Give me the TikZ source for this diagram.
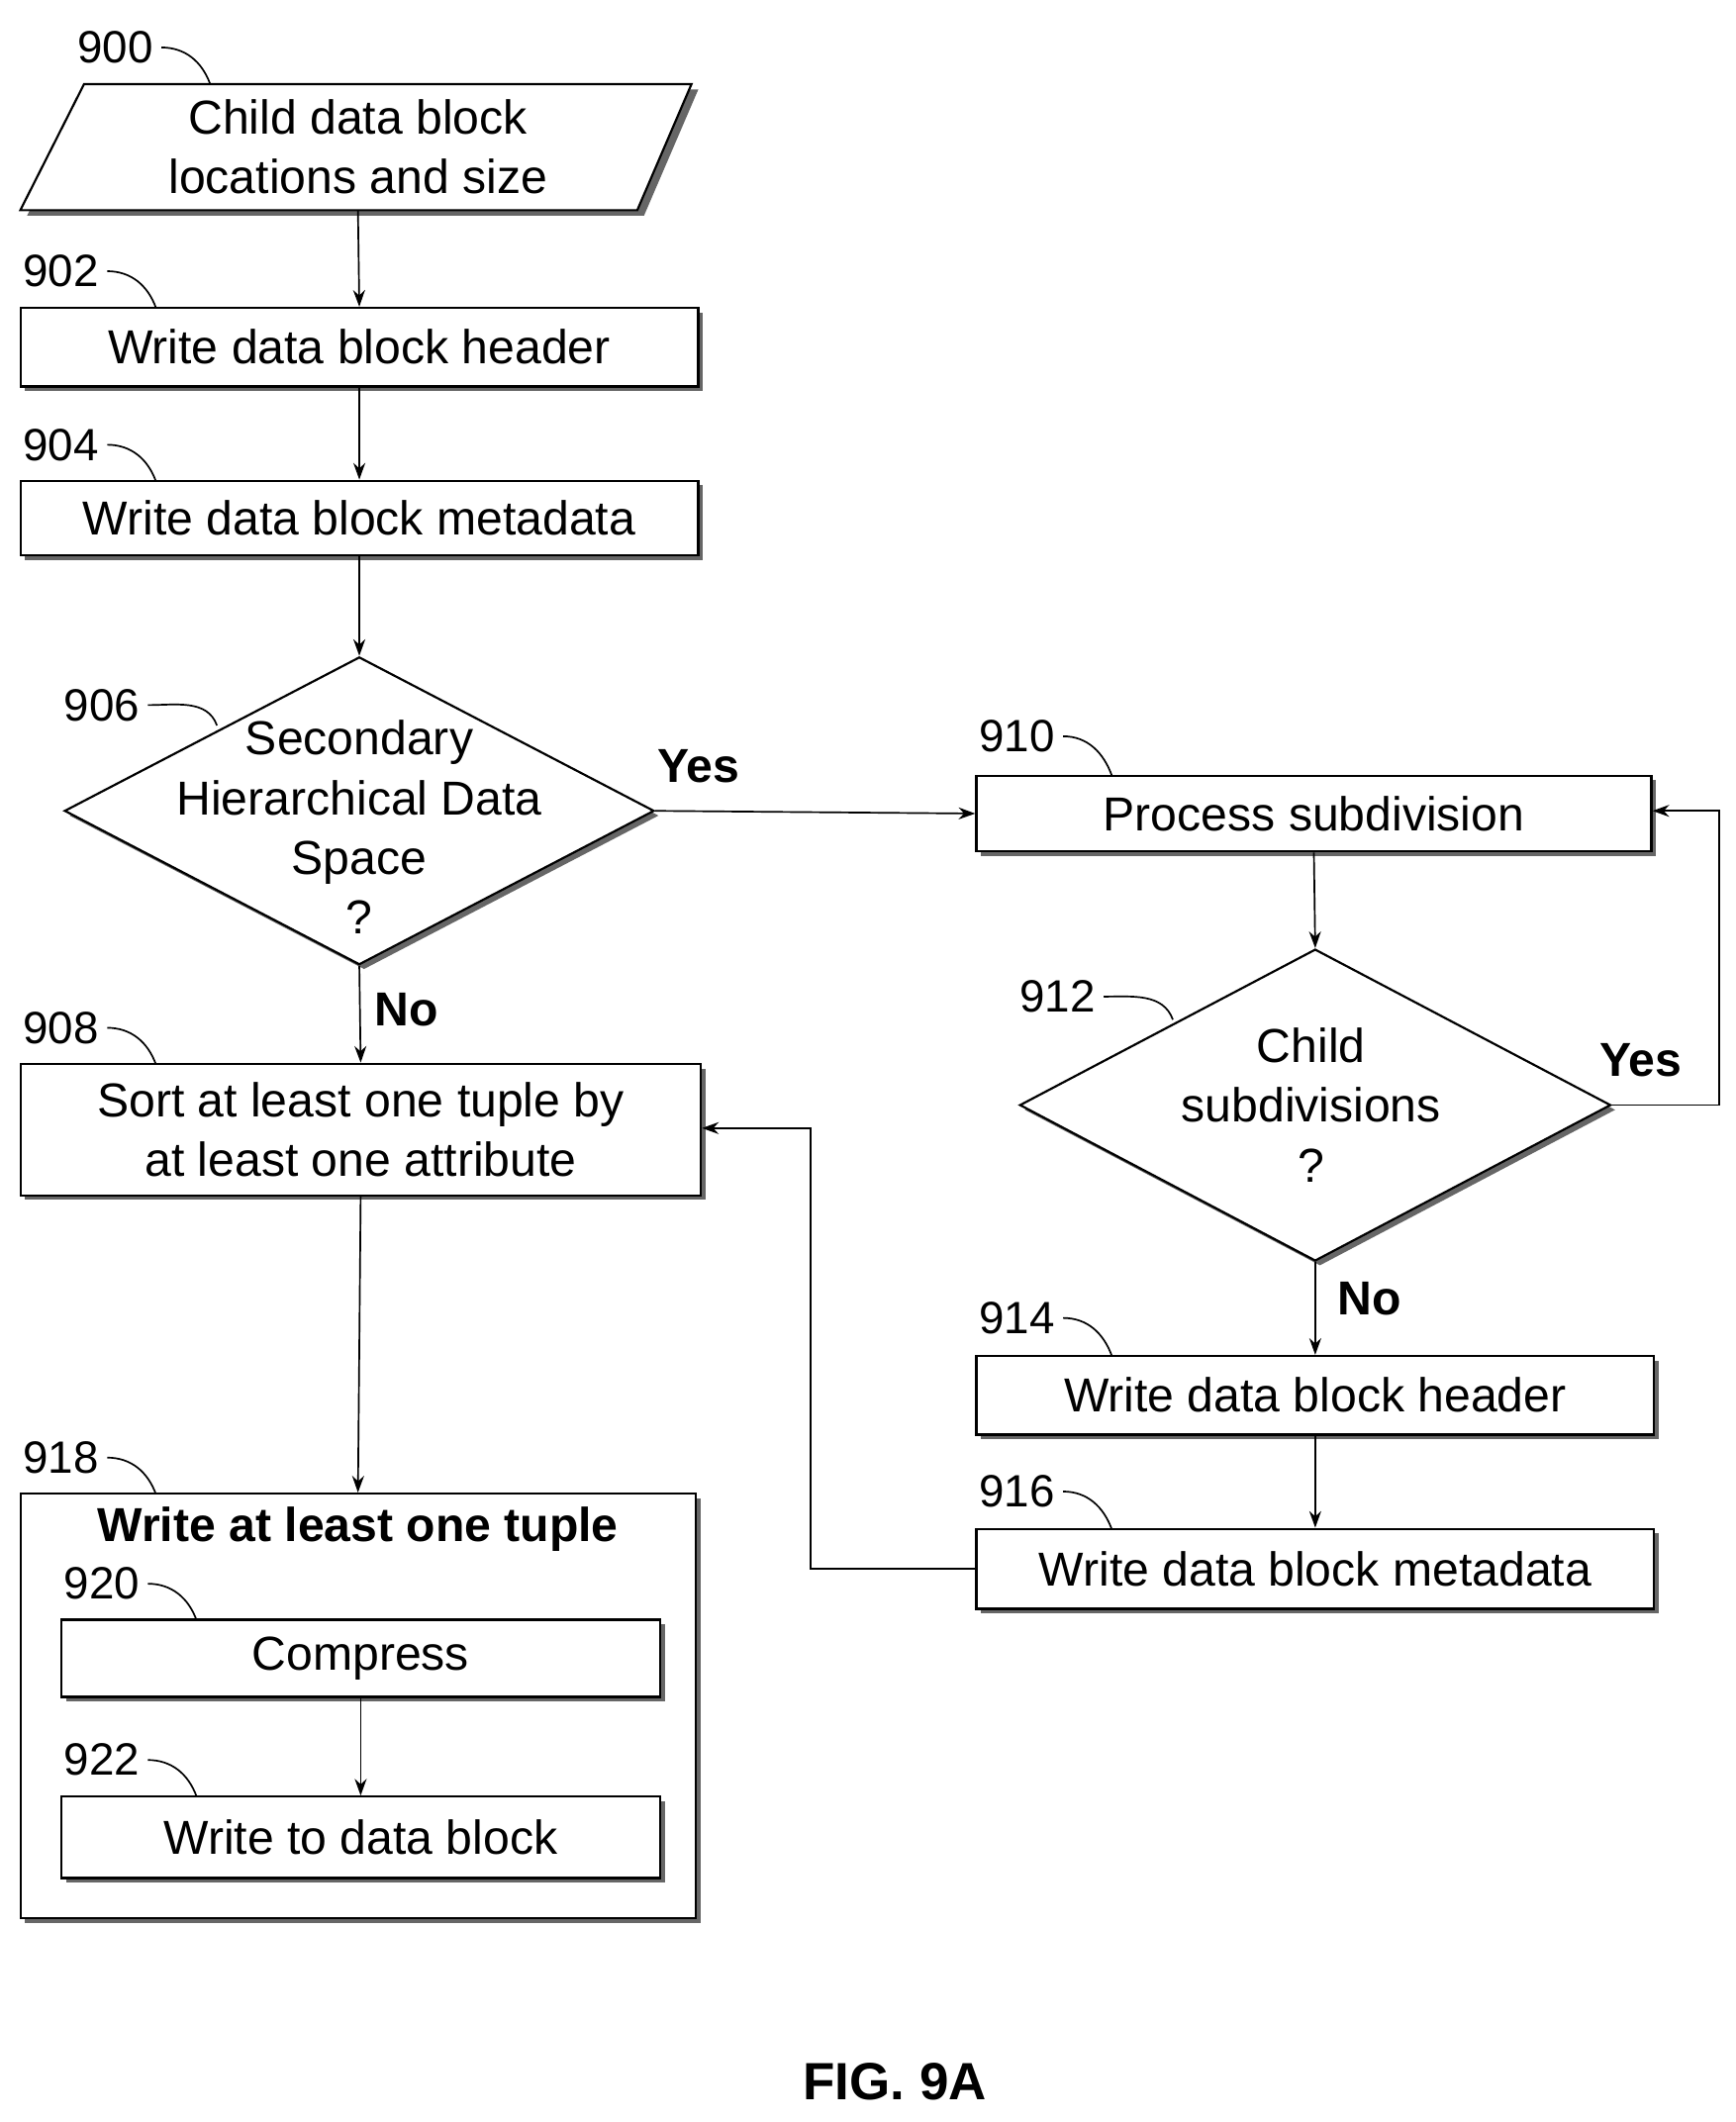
\documentclass[tikz,border=0pt]{standalone}
\usepackage{fontspec}
\setmainfont{Liberation Sans}
\usetikzlibrary{shapes.geometric,shadows,arrows.meta}
\begin{document}
\begin{tikzpicture}[x=0.02cm,y=-0.02cm,
  sh/.style={drop shadow={shadow xshift=0.07cm,shadow yshift=-0.07cm,fill=black!60,opacity=1}},
  box/.style={draw,line width=0.9pt,fill=white,sh,inner sep=0pt},
  dia/.style={draw,line width=0.9pt,fill=white,sh,diamond,inner sep=0pt},
  txt/.style={font=\fontsize{20}{25}\selectfont,align=center},
  num/.style={font=\fontsize{19}{22}\selectfont},
  yn/.style={font=\bfseries\fontsize{20}{22}\selectfont},
  arr/.style={-{Stealth[length=7pt,width=5pt]},line width=0.7pt},
  ln/.style={line width=0.7pt}]
\useasboundingbox (0,0) rectangle (1280,1565);
% 900
\fill[black!60] (67,66) -- (515,66) -- (475,159) -- (20,159) -- cycle;
\draw[line width=0.9pt,fill=white] (62,62) -- (510,62) -- (470,155) -- (15,155) -- cycle;
\node[txt] (n900) at (264,108) {Child data block\\locations and size};
\coordinate (b900) at (264,155);
\node[box,minimum width=10cm,minimum height=1.16cm] (n902) at (265,256) {};
\node[txt] at (n902) {Write data block header};
\node[box,minimum width=10cm,minimum height=1.1cm] (n904) at (265,382) {};
\node[txt] at (n904) {Write data block metadata};
\node[dia,minimum width=8.7cm,minimum height=4.54cm] (n906) at (265,598) {};
\node[txt] at (265,610) {Secondary\\Hierarchical Data\\Space\\?};
\node[box,minimum width=10.04cm,minimum height=1.94cm] (n908) at (266,833) {};
\node[txt] at (n908) {Sort at least one tuple by\\at least one attribute};
\node[box,minimum width=9.96cm,minimum height=6.26cm] (n918) at (264,1258) {};
\node[txt,font=\bfseries\fontsize{20}{25}\selectfont] at (264,1128) {Write at least one tuple};
\node[box,minimum width=8.84cm,minimum height=1.14cm] (n920) at (266,1223) {};
\node[txt] at (n920) {Compress};
\node[box,minimum width=8.84cm,minimum height=1.2cm] (n922) at (266,1355) {};
\node[txt] at (n922) {Write to data block};
\node[box,minimum width=9.96cm,minimum height=1.12cm] (n910) at (969,600) {};
\node[txt] at (n910) {Process subdivision};
\node[dia,minimum width=8.72cm,minimum height=4.6cm] (n912) at (970,815) {};
\node[txt] at (967,815) {Child\\subdivisions\\?};
\node[box,minimum width=10cm,minimum height=1.16cm] (n914) at (970,1029) {};
\node[txt] at (n914) {Write data block header};
\node[box,minimum width=10cm,minimum height=1.18cm] (n916) at (970,1157) {};
\node[txt] at (n916) {Write data block metadata};
% labels
\foreach \t/\x/\y/\ex/\ey in {900/85/35/155/62, 902/45/200/115/227, 904/45/328/115/355, 906/75/520/160/535, 908/45/758/115/785, 918/45/1075/115/1102, 920/75/1168/145/1195, 922/75/1298/145/1325, 910/750/543/820/572, 912/780/735/865/752, 914/750/972/820/1000, 916/750/1100/820/1128}
 {\node[num] (L\t) at (\x,\y) {\t};
  \draw[ln] (L\t.east) to[out=0,in=110] (\ex,\ey);}
% connectors
\draw[arr] (b900) -- (n902.north);
\draw[arr] (n902.south) -- (n904.north);
\draw[arr] (n904.south) -- (n906.north);
\draw[arr] (n906.south) -- (n908.north);
\node[yn] at (300,745) {No};
\draw[arr] (n906.east) -- (n910.west);
\node[yn] at (515,565) {Yes};
\draw[arr] (n910.south) -- (n912.north);
\coordinate (c1) at (1268,815);
\coordinate (c2) at (1268,598);
\draw[arr] (n912.east) -- (c1) -- (c2) -- (n910.east|-c2);
\node[yn] at (1210,782) {Yes};
\draw[arr] (n912.south) -- (n914.north);
\node[yn] at (1010,958) {No};
\draw[arr] (n914.south) -- (n916.north);
\coordinate (c3) at (598,1157);
\coordinate (c4) at (598,832);
\draw[arr] (n916.west) -- (c3) -- (c4) -- (n908.east|-c4);
\draw[arr] (n908.south) -- (n918.north);
\draw[arr] (n920.south) -- (n922.north);
\node[font=\bfseries\fontsize{22}{24}\selectfont] (fig) at (660,1535) {FIG. 9A};
\end{tikzpicture}
\end{document}
